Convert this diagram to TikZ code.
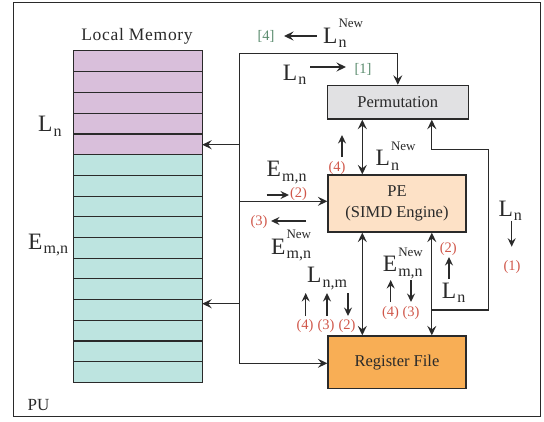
\documentclass[tikz,border=0pt]{standalone}
\usepackage{fontspec}
\setmainfont{Liberation Serif}
\usetikzlibrary{arrows.meta}
\definecolor{lmpurple}{HTML}{D9BFDB}
\definecolor{lmteal}{HTML}{BDE4E0}
\definecolor{permgray}{HTML}{E1E1E3}
\definecolor{pepeach}{HTML}{FDE1C6}
\definecolor{rforange}{HTML}{F8AE55}
\definecolor{stepred}{HTML}{D0574A}
\definecolor{stepgreen}{HTML}{5B8C6E}
\definecolor{ink}{HTML}{2A2A2A}
\newcommand\Lbl[3]{{\fontsize{23.5}{23.5}\selectfont #1}\kern1pt%
  \setbox0\hbox{\fontsize{13}{13}\selectfont #3}%
  \setbox2\hbox{\fontsize{16}{16}\selectfont #2}%
  \dimen0=\wd0 \ifdim\wd2>\dimen0 \dimen0=\wd2\fi
  \rlap{\raise15.5pt\copy0}\rlap{\lower4.5pt\copy2}\kern\dimen0}
\begin{document}
\begin{tikzpicture}[x=1pt,y=-1pt,
  every node/.style={text=ink},
  memrow/.style={fill, inner sep=0pt, minimum width=128pt, minimum height=20.7pt},
  unit/.style={draw=ink, line width=1.2pt, inner sep=0pt, font=\fontsize{16.5}{21}\selectfont, align=center},
  lab/.style={anchor=base west, inner sep=0pt},
  redlab/.style={inner sep=0pt, text=stepred, font=\fontsize{14.5}{14.5}\selectfont},
  greenlab/.style={inner sep=0pt, text=stepgreen, font=\fontsize{14.5}{14.5}\selectfont},
  arr/.style={draw=ink, line width=1.3pt, -{Stealth[length=9.5pt,width=9pt,inset=3.5pt]}},
  darr/.style={draw=ink, line width=1.3pt, {Stealth[length=9.5pt,width=9pt,inset=3.5pt]}-{Stealth[length=9.5pt,width=9pt,inset=3.5pt]}},
  sarr/.style={draw=ink, line width=1.3pt, -{Stealth[length=8.5pt,width=8pt,inset=3pt]}},
  sepline/.style={draw=ink, line width=1.1pt}]
\useasboundingbox (0,0) rectangle (544,421);
% PU frame
\node[draw=ink, line width=1.4pt, minimum width=527pt, minimum height=414pt, inner sep=0pt, anchor=north west] (pu) at (13,1.5) {};
\node[anchor=base west, inner sep=0pt, font=\fontsize{17}{17}\selectfont] (pulab) at (27.5,410) {PU};
% Local memory
\node[anchor=base, inner sep=0pt, font=\fontsize{17.5}{17.5}\selectfont\addfontfeature{LetterSpace=4}] (lmtitle) at (137,40) {Local Memory};
\foreach \i in {1,...,16}{
  \pgfmathsetmacro\yy{51+(\i-0.5)*20.7}
  \ifnum\i<6
    \node[memrow, lmpurple] (m\i) at (138,\yy) {};
  \else
    \node[memrow, lmteal] (m\i) at (138,\yy) {};
  \fi
}
\foreach \i in {1,...,15}{
  \draw[sepline] (m\i.south west) -- (m\i.south east);
}
\draw[sepline] (m1.north west) rectangle (m16.south east);
\node[lab] (memL) at (38,131.5) {\Lbl{L}{n}{}};
\node[lab] (memE) at (28,249) {\Lbl{E}{m,n}{}};
% units
\node[unit, fill=permgray, minimum width=141pt, minimum height=33.7pt] (perm) at (397.8,102.2) {Permutation};
\node[unit, fill=pepeach, minimum width=138pt, minimum height=57pt] (pe) at (397,203.5) {PE\\(SIMD Engine)};
\node[unit, fill=rforange, minimum width=138pt, minimum height=52.7pt] (rf) at (397,362.3) {Register File};
% bus coordinates
\coordinate (bt) at (239.3,53.3);
\coordinate (bb) at (239.3,363.3);
\coordinate (bm1) at (239.3,144.7);
\coordinate (bm2) at (239.3,303.7);
\coordinate (bpe) at (239.3,201.3);
\coordinate (xl) at (362.3,0);
\coordinate (xr) at (431.8,0);
\coordinate (jn) at (431.8,310);
\coordinate (lp1) at (488.3,310);
\coordinate (lp2) at (488.3,149.7);
\coordinate (lp3) at (431.8,149.7);
% bus
\draw[arr] (bb) -- (bt) -| (perm.north);
\draw[arr] (bm1) -- (bm1 -| m5.east);
\draw[arr] (bm2) -- (bm2 -| m13.east);
\draw[arr] (bpe) -- (bpe -| pe.west);
\draw[arr] (bb) -- (bb -| rf.west);
% between units
\draw[darr] (perm.south -| xl) -- (pe.north -| xl);
\draw[darr] (pe.south -| xl) -- (rf.north -| xl);
\draw[darr] (pe.south -| xr) -- (rf.north -| xr);
\draw[arr] (jn) -- (lp1) -- (lp2) -- (lp3) -- (perm.south -| lp3);
% top labels
\node[greenlab] (g4) at (266,36) {[4]};
\node[lab] (lnewtop) at (323,43) {\Lbl{L}{n}{New}};
\coordinate (a4s) at (316.7,36);
\coordinate (a4e) at (284,36);
\draw[arr] (a4s) -- (a4e);
\node[lab] (lntop) at (282.7,80) {\Lbl{L}{n}{}};
\coordinate (a1s) at (310,67);
\coordinate (a1e) at (346,67);
\draw[arr] (a1s) -- (a1e);
\node[greenlab] (g1) at (363,69) {[1]};
% perm-pe labels
\node[redlab] (r4a) at (337,168) {(4)};
\coordinate (u4s) at (342,157);
\coordinate (u4e) at (342,135);
\draw[sarr] (u4s) -- (u4e);
\node[lab] (lnewmid) at (375.5,165.5) {\Lbl{L}{n}{New}};
% left of PE
\node[lab] (emn) at (266.5,176.5) {\Lbl{E}{m,n}{}};
\coordinate (e2s) at (266.7,195);
\coordinate (e2e) at (289,195);
\draw[sarr] (e2s) -- (e2e);
\node[redlab] (r2a) at (298.5,194) {(2)};
\coordinate (e3s) at (306,221);
\coordinate (e3e) at (271,221);
\draw[sarr] (e3s) -- (e3e);
\node[redlab] (r3a) at (259,222.5) {(3)};
\node[lab] (enewl) at (271,254) {\Lbl{E}{m,n}{New}};
% L n,m
\node[lab] (lnm) at (307,282.5) {\Lbl{L}{n,m}{}};
\coordinate (p4s) at (305.7,316);
\coordinate (p4e) at (305.7,293);
\coordinate (p3s) at (327,316);
\coordinate (p3e) at (327,293);
\coordinate (p2s) at (348,293);
\coordinate (p2e) at (348,316);
\draw[sarr] (p4s) -- (p4e);
\draw[sarr] (p3s) -- (p3e);
\draw[sarr] (p2s) -- (p2e);
\node[redlab] (r4b) at (305,326.5) {(4)};
\node[redlab] (r3b) at (326,326.5) {(3)};
\node[redlab] (r2b) at (347,326.5) {(2)};
% E new right
\node[lab] (enewr) at (382.7,271.5) {\Lbl{E}{m,n}{New}};
\coordinate (q4s) at (390.7,302);
\coordinate (q4e) at (390.7,280);
\coordinate (q3s) at (411,280);
\coordinate (q3e) at (411,302);
\draw[sarr] (q4s) -- (q4e);
\draw[sarr] (q3s) -- (q3e);
\node[redlab] (r4c) at (390.5,313.5) {(4)};
\node[redlab] (r3c) at (411,313.5) {(3)};
% right of PE
\node[redlab] (r2c) at (448.3,249) {(2)};
\coordinate (s2s) at (449,279);
\coordinate (s2e) at (449,257);
\draw[sarr] (s2s) -- (s2e);
\node[lab] (lnr) at (441.7,298.3) {\Lbl{L}{n}{}};
% far right
\node[lab] (lnfar) at (498.3,216) {\Lbl{L}{n}{}};
\coordinate (f1s) at (511.7,220.7);
\coordinate (f1e) at (511.7,246.7);
\draw[sarr] (f1s) -- (f1e);
\node[redlab] (r1) at (512,267.3) {(1)};
\end{tikzpicture}
\end{document}
